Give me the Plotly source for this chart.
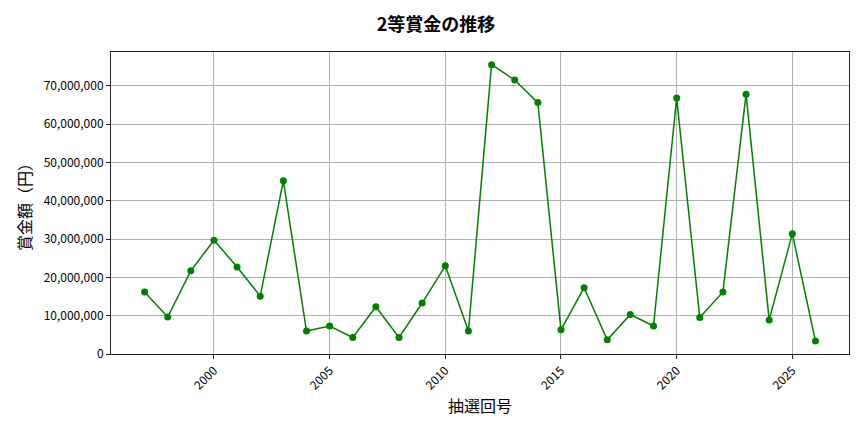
import plotly.graph_objects as go

# 抽選回号 と 2等賞金
years = list(range(1997, 2027))
prize = [
    16200000, 9650000, 21700000, 29700000, 22700000, 15100000, 45200000,
    6000000, 7300000, 4300000, 12300000, 4300000, 13300000, 23000000,
    6000000, 75500000, 71500000, 65600000, 6300000, 17300000, 3700000,
    10300000, 7300000, 66800000, 9500000, 16200000, 67800000, 8900000,
    31400000, 3400000,
]
x_ticks = [2000, 2005, 2010, 2015, 2020, 2025]
y_ticks = list(range(0, 70000001, 10000000))

font_jp = "Noto Sans CJK JP"

fig = go.Figure(go.Scatter(
    x=years,
    y=prize,
    mode="lines+markers",
    line=dict(color="green", width=1.5),
    marker=dict(color="green", size=7),
))

axis_common = dict(
    showline=True, linecolor="#222", linewidth=1, mirror=True,
    showgrid=True, gridcolor="#b0b0b0", gridwidth=0.8,
    ticks="outside", ticklen=4, tickcolor="#222",
    tickfont=dict(family=font_jp, size=12, color="black"),
    zeroline=False, automargin=False,
)

fig.update_xaxes(
    range=[1995.55, 2027.45],
    tickvals=x_ticks,
    tickangle=-45,
    title=dict(text="抽選回号", font=dict(family=font_jp, size=16, color="black"), standoff=8),
    **axis_common,
)
fig.update_yaxes(
    range=[0, 78800000],
    tickvals=y_ticks,
    tickformat=",d",
    title=dict(text="賞金額（円）", font=dict(family=font_jp, size=16, color="black"), standoff=8),
    **axis_common,
)

# the page body adds an 8px offset, so the figure is drawn 8px smaller
fig.update_layout(
    width=856, height=424,
    margin=dict(l=103, r=15, t=44, b=78),
    paper_bgcolor="white", plot_bgcolor="white",
    showlegend=False,
    title=dict(
        text="<b>2等賞金の推移</b>",
        x=0.5, xanchor="center", y=0.96, yanchor="middle",
        font=dict(family=font_jp, size=18, color="black"),
    ),
)

fig.write_html("out.html")
